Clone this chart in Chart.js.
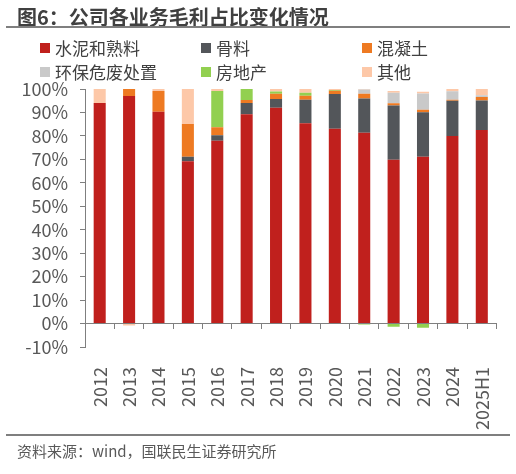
<!DOCTYPE html>
<html>
<head>
<meta charset="utf-8">
<script src="https://cdn.jsdelivr.net/npm/chart.js@4.4.0/dist/chart.umd.min.js"></script>
<style>
  html, body { margin: 0; padding: 0; background: #fff; }
  body { width: 516px; height: 474px; position: relative; overflow: hidden; font-family: "Noto Sans CJK SC", "Noto Sans", sans-serif; }
  #titre { position: absolute; left: 17px; top: 2px; font-size: 20px; font-weight: bold; color: #404040; white-space: nowrap; }
  .trait { position: absolute; left: 6px; width: 504px; height: 2px; background: #7f7f7f; }
  .leg { position: absolute; font-size: 17px; color: #404040; white-space: nowrap; line-height: 20px; }
  .leg i { position: absolute; left: -15px; top: 5px; width: 10px; height: 10px; }
  #source { position: absolute; left: 17px; top: 440px; font-size: 15px; color: #595959; white-space: nowrap; }
  #zone { position: absolute; left: 0; top: 0; width: 516px; height: 474px; }
</style>
</head>
<body>
<div id="zone"><canvas id="chartMarge"></canvas></div>
<div id="titre">图6：公司各业务毛利占比变化情况</div>
<div class="trait" style="top:26px"></div>
<div id="legende"></div>
<div class="trait" style="top:434px"></div>
<div id="source">资料来源：wind，国联民生证券研究所</div>
<script>
const annees = ["2012", "2013", "2014", "2015", "2016", "2017", "2018", "2019", "2020", "2021", "2022", "2023", "2024", "2025H1"];
const ciment = [94.0, 97.0, 90.3, 69.2, 77.9, 89.2, 92.0, 85.4, 83.1, 81.4, 69.8, 71.1, 80.0, 82.5];
const granulats = [0, 0, 0, 1.9, 2.4, 4.8, 3.7, 10.0, 14.8, 14.6, 23.2, 19.0, 15.0, 12.6];
const beton = [0, 3.0, 8.8, 14.0, 3.4, 1.3, 2.3, 1.7, 1.4, 2.0, 0.9, 1.1, 0.4, 1.5];
const dechets = [0, 0, 0, 0, 0, 0, 0, 0, 0, 1.8, 4.5, 6.9, 3.6, 0.7];
const immobilier = [0, 0, 0, 0, 15.4, 4.7, 0.9, 1.3, 0.3, -0.4, -1.4, -1.8, 0, 0];
const autres = [6.0, -0.8, 0.9, 14.9, 0.9, 0, 1.1, 1.6, 0.4, 0.2, 0.7, 0.7, 1.0, 2.7];
const yTicks = [-10, 0, 10, 20, 30, 40, 50, 60, 70, 80, 90, 100];

const series = [
  { label: "水泥和熟料", data: ciment, color: "#c0201d" },
  { label: "骨料", data: granulats, color: "#53565a" },
  { label: "混凝土", data: beton, color: "#ee7a22" },
  { label: "环保危废处置", data: dechets, color: "#c9c9c9" },
  { label: "房地产", data: immobilier, color: "#92d050" },
  { label: "其他", data: autres, color: "#fdc8a8" },
];

// légende en grille 3 colonnes, comme l'original
const colsX = [55, 216, 377];
const rowsY = [38, 62];
document.getElementById("legende").innerHTML = series
  .map((s, i) => {
    const x = colsX[i % 3];
    const y = rowsY[Math.floor(i / 3)];
    return `<div class="leg" style="left:${x}px;top:${y}px"><i style="background:${s.color}"></i>${s.label}</div>`;
  })
  .join("");

const police = "'Noto Sans CJK SC', 'Noto Sans', sans-serif";

new Chart(document.getElementById("chartMarge"), {
  type: "bar",
  data: {
    labels: annees,
    datasets: series.map((s) => ({
      label: s.label,
      data: s.data,
      backgroundColor: s.color,
      borderWidth: 0,
      barPercentage: 0.41,
      categoryPercentage: 1,
    })),
  },
  options: {
    responsive: true,
    maintainAspectRatio: false,
    animation: false,
    layout: { padding: { left: 0, top: 89, right: 17, bottom: 0 } },
    scales: {
      x: {
        stacked: true,
        grid: { display: false },
        border: { display: false },
        ticks: {
          font: { family: police, size: 18 },
          color: "#595959",
          minRotation: 90,
          maxRotation: 90,
          padding: 12,
          autoSkip: false,
        },
        afterFit: (s) => { s.height = 127; },
      },
      x2: {
        type: "category",
        labels: annees,
        position: { y: 0 },
        offset: true,
        grid: { offset: true, drawOnChartArea: false, tickLength: 5, color: "#7f7f7f" },
        border: { display: true, color: "#7f7f7f" },
        ticks: { display: false },
      },
      y: {
        stacked: true,
        min: -10,
        max: 100,
        afterBuildTicks: (s) => { s.ticks = yTicks.map((v) => ({ value: v })); },
        grid: { drawOnChartArea: false, tickLength: 5, color: "#7f7f7f" },
        border: { display: true, color: "#7f7f7f" },
        ticks: {
          font: { family: police, size: 18 },
          color: "#595959",
          padding: 12,
          autoSkip: false,
          callback: (v) => v + "%",
        },
        afterFit: (s) => { s.width = 85; },
      },
    },
    plugins: {
      legend: { display: false },
      tooltip: { enabled: false },
    },
  },
});
</script>
</body>
</html>
